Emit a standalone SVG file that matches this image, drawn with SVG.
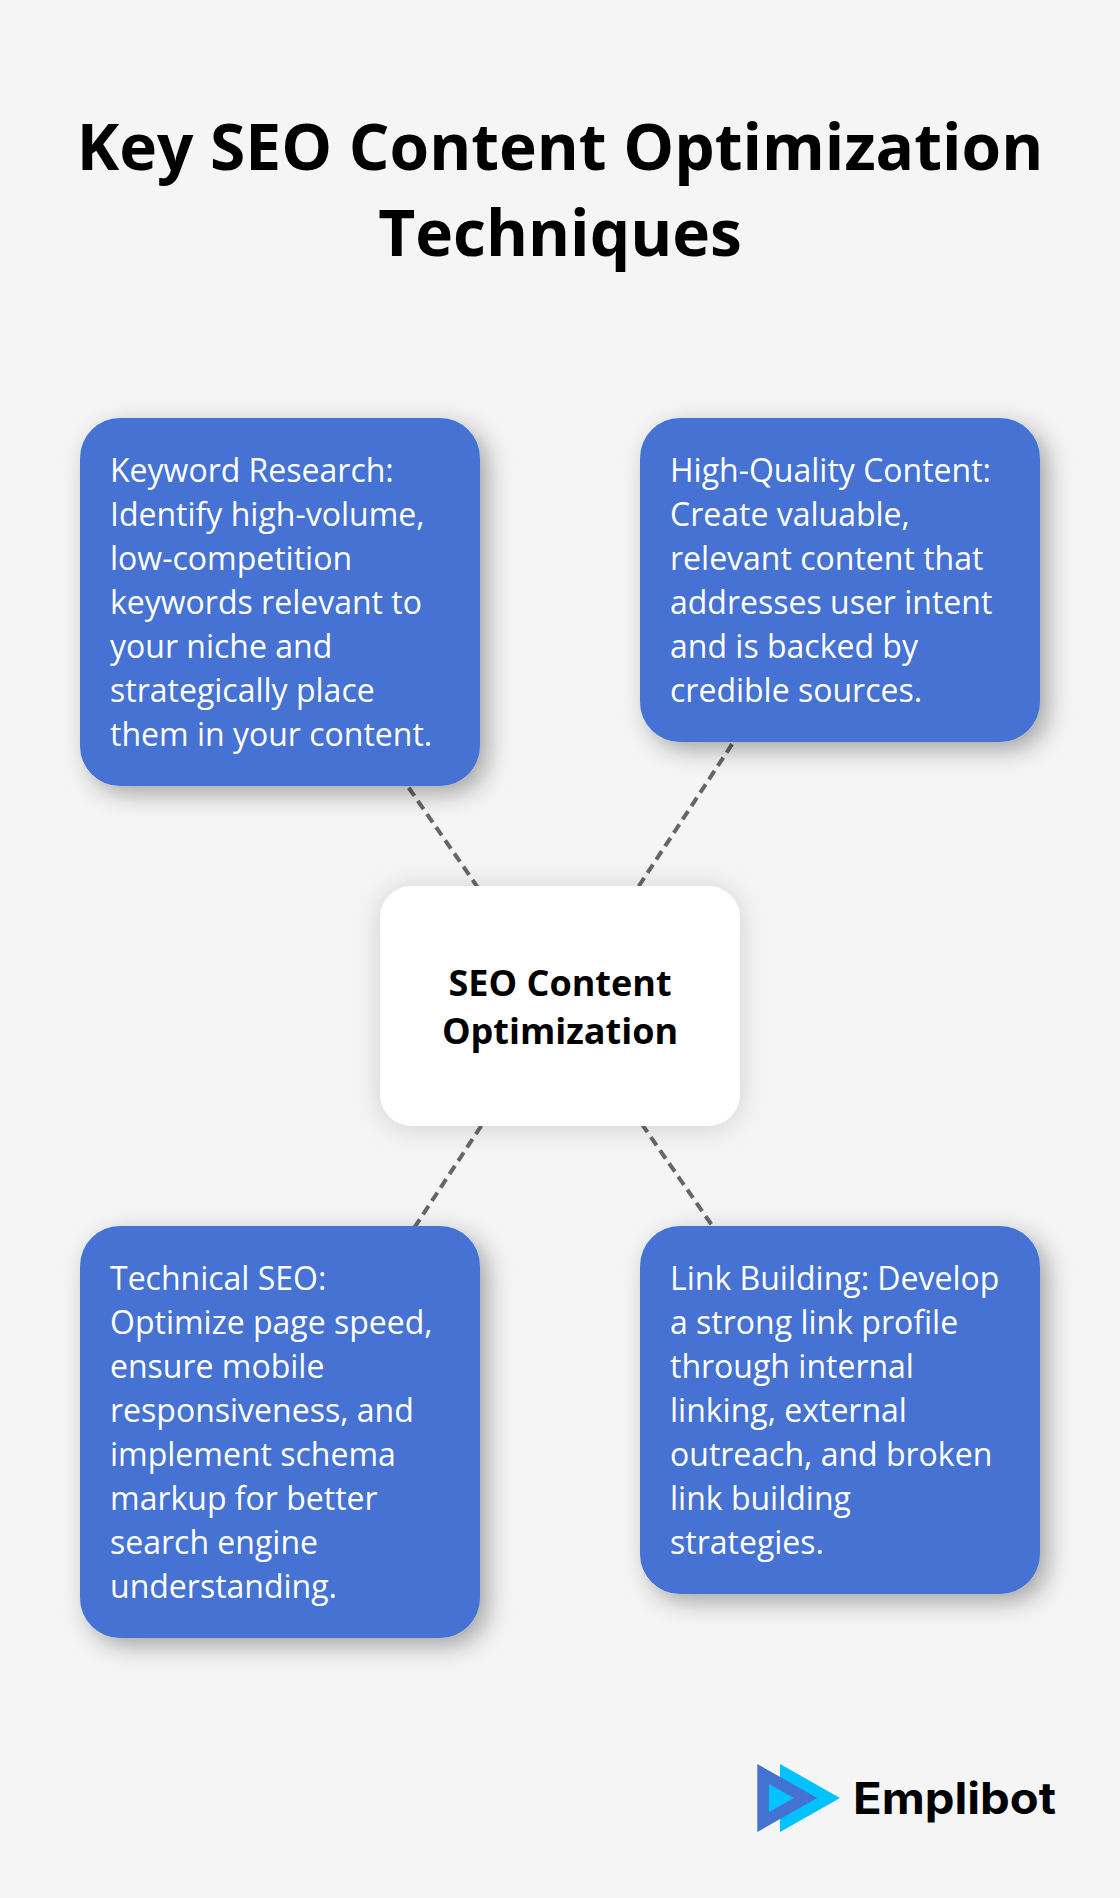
<svg xmlns="http://www.w3.org/2000/svg" width="1120" height="1898" viewBox="0 0 1120 1898">
<style>
text{font-family:"Open Sans","Noto Sans",sans-serif}
.title{font-size:64px;font-weight:700;fill:#000;text-anchor:middle}
.body{font-size:32px;fill:#fff}
.center{font-size:36px;font-weight:700;fill:#000;text-anchor:middle}
.box{fill:#4472d3;filter:url(#s1)}
.link{stroke:#666;stroke-width:4;stroke-dasharray:10 6;fill:none}
.a{stroke-dashoffset:-2}
.b{stroke-dashoffset:-4.5}
.logo{font-family:Inter,"Liberation Sans",sans-serif;font-size:44px;font-weight:700;fill:#000}
</style>
<defs>
<filter id="s1" x="-20%" y="-20%" width="150%" height="150%"><feDropShadow dx="8" dy="8" stdDeviation="12" flood-color="#000" flood-opacity=".33"/></filter>
<filter id="s2" x="-20%" y="-20%" width="140%" height="140%"><feDropShadow dx="0" dy="2" stdDeviation="14" flood-color="#000" flood-opacity=".16"/></filter>
</defs>
<rect width="1120" height="1898" fill="#f5f5f5"/>
<g id="title"><text class="title" x="560" y="170">Key SEO Content Optimization</text><text class="title" x="560" y="256">Techniques</text></g>
<g id="connectors">
<line class="link a" x1="280" y1="602" x2="560" y2="1006"/>
<line class="link b" x1="840" y1="580" x2="560" y2="1006"/>
<line class="link b" x1="280" y1="1432" x2="560" y2="1006"/>
<line class="link a" x1="840" y1="1410" x2="560" y2="1006"/>
</g>
<g id="node-center"><rect x="380" y="886" width="360" height="240" rx="32" fill="#fff" filter="url(#s2)"/><text class="center" x="560" y="996">SEO Content</text><text class="center" x="560" y="1044">Optimization</text></g>
<g id="node-keyword"><rect class="box" x="80" y="418" width="400" height="368" rx="40"/>
<text class="body" x="110" y="482">Keyword Research:</text><text class="body" x="110" y="526">Identify high-volume,</text><text class="body" x="110" y="570">low-competition</text><text class="body" x="110" y="614">keywords relevant to</text><text class="body" x="110" y="658">your niche and</text><text class="body" x="110" y="702">strategically place</text><text class="body" x="110" y="746">them in your content.</text></g>
<g id="node-quality"><rect class="box" x="640" y="418" width="400" height="324" rx="40"/>
<text class="body" x="670" y="482">High-Quality Content:</text><text class="body" x="670" y="526">Create valuable,</text><text class="body" x="670" y="570">relevant content that</text><text class="body" x="670" y="614">addresses user intent</text><text class="body" x="670" y="658">and is backed by</text><text class="body" x="670" y="702">credible sources.</text></g>
<g id="node-technical"><rect class="box" x="80" y="1226" width="400" height="412" rx="40"/>
<text class="body" x="110" y="1290">Technical SEO:</text><text class="body" x="110" y="1334">Optimize page speed,</text><text class="body" x="110" y="1378">ensure mobile</text><text class="body" x="110" y="1422">responsiveness, and</text><text class="body" x="110" y="1466">implement schema</text><text class="body" x="110" y="1510">markup for better</text><text class="body" x="110" y="1554">search engine</text><text class="body" x="110" y="1598">understanding.</text></g>
<g id="node-link"><rect class="box" x="640" y="1226" width="400" height="368" rx="40"/>
<text class="body" x="670" y="1290">Link Building: Develop</text><text class="body" x="670" y="1334">a strong link profile</text><text class="body" x="670" y="1378">through internal</text><text class="body" x="670" y="1422">linking, external</text><text class="body" x="670" y="1466">outreach, and broken</text><text class="body" x="670" y="1510">link building</text><text class="body" x="670" y="1554">strategies.</text></g>
<g id="logo"><polygon points="780,1764 840,1798 780,1832" fill="#00c2ff"/><polygon points="757.3,1764 817.3,1798 757.3,1832" fill="#4472d3"/><polygon points="769,1784 794,1798 769,1812" fill="#00c2ff"/>
<text class="logo" x="853" y="1814" textLength="203" lengthAdjust="spacingAndGlyphs">Emplibot</text></g>
</svg>
